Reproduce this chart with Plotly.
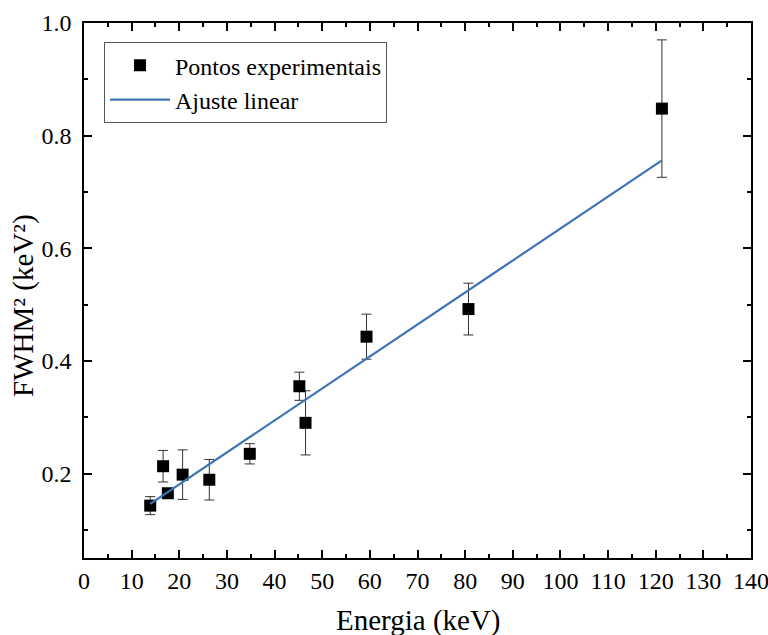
import plotly.graph_objects as go

# Data
energia = [13.9, 16.6, 17.6, 20.7, 26.3, 34.8, 45.2, 46.5, 59.3, 80.7, 121.3]
fwhm2 = [0.143, 0.213, 0.165, 0.198, 0.189, 0.235, 0.355, 0.290, 0.443, 0.492, 0.848]
erro = [0.016, 0.028, 0.008, 0.044, 0.036, 0.018, 0.025, 0.057, 0.040, 0.046, 0.122]

ajuste_x = [13.9, 121.3]
ajuste_y = [0.146, 0.756]

x_ticks = list(range(0, 141, 10))
y_ticks = [0.2, 0.4, 0.6, 0.8, 1.0]

x_title = "Energia (keV)"
y_title = "FWHM² (keV²)"

FONT = "Liberation Serif"

fig = go.Figure()
fig.add_trace(go.Scatter(
    x=energia, y=fwhm2, mode="markers", name="Pontos experimentais",
    marker=dict(symbol="square", size=12, color="black"),
    error_y=dict(type="data", array=erro, visible=True, color="#333333", thickness=1, width=5),
))
fig.add_trace(go.Scatter(
    x=ajuste_x, y=ajuste_y, mode="lines", name="Ajuste linear",
    line=dict(color="#3E74B4", width=2.2),
))

axis_common = dict(
    showline=True, linecolor="black", linewidth=1.6, mirror="ticks",
    ticks="inside", ticklen=8, tickwidth=1.6, tickcolor="black",
    showgrid=False, zeroline=False, automargin=False,
    ticklabeloverflow="allow",
    tickfont=dict(family=FONT, size=24, color="black"),
)

fig.update_xaxes(
    range=[0, 140], tickvals=x_ticks, ticktext=[str(v) for v in x_ticks],
    minor=dict(ticks="inside", ticklen=4, tickwidth=1.6, tickcolor="black", dtick=5, tick0=0),
    **axis_common,
)
fig.update_yaxes(
    range=[0.05, 1.0], tickvals=y_ticks, ticktext=[f"{v:.1f}" for v in y_ticks],
    minor=dict(ticks="inside", ticklen=4, tickwidth=1.6, tickcolor="black", dtick=0.1, tick0=0.1),
    ticklabelstandoff=6,
    **axis_common,
)

fig.add_annotation(
    text=x_title, xref="paper", yref="paper", x=0.502, y=-0.116,
    xanchor="center", yanchor="middle", showarrow=False,
    font=dict(family=FONT, size=29, color="black"),
)
fig.add_annotation(
    text=y_title, xref="paper", yref="paper", x=-0.09, y=0.473, textangle=-90,
    xanchor="center", yanchor="middle", showarrow=False,
    font=dict(family=FONT, size=29, color="black"),
)

fig.update_layout(
    width=768, height=635,
    margin=dict(l=84, r=17, t=23, b=77),
    plot_bgcolor="white", paper_bgcolor="white",
    font=dict(family=FONT, color="black"),
    legend=dict(
        x=0.03, y=0.964, xanchor="left", yanchor="top",
        bordercolor="#555555", borderwidth=1, bgcolor="white",
        font=dict(family=FONT, size=24, color="black"),
        itemwidth=60, tracegroupgap=0,
    ),
    showlegend=True,
)

fig.write_html("out.html")
